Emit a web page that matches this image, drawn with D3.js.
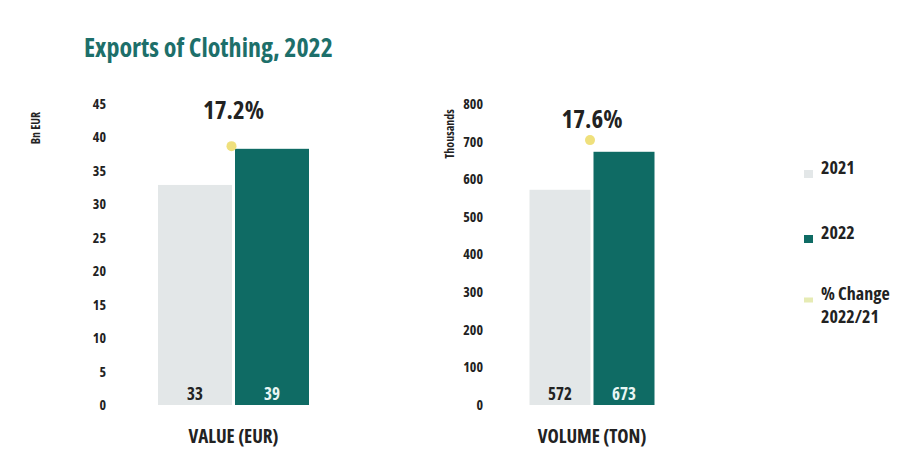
<!DOCTYPE html>
<html lang="en">
<head>
    <meta charset="UTF-8">
    <title>Exports of Clothing, 2022</title>
    <script src="https://cdn.jsdelivr.net/npm/d3@7"></script>
    <style>
        body { margin: 0; background: #fff; }
        svg text {
            font-family: "Open Sans", "Liberation Sans Narrow", sans-serif;
            font-stretch: 75%;
            font-weight: bold;
            fill: #222;
        }
    </style>
</head>
<body>
<svg width="906" height="457"></svg>
<script>
    // data
    var categories = ["VALUE (EUR)", "VOLUME (TON)"];
    var years = ["2021", "2022"];
    var values2021 = [32.9, 572];
    var values2022 = [38.3, 673];
    var labels2021 = ["33", "572"];
    var labels2022 = ["39", "673"];
    var pctChange = [17.2, 17.6];
    var axisTitles = ["Bn EUR", "Thousands"];
    var yMax = [45, 800];
    var yStep = [5, 100];

    var svg = d3.select("svg");
    var green = "#0f6b64", grey = "#e3e7e8", yellow = "#efe07c";

    // layout of the two small panels
    var panels = [
        {axisX: 106, center: 233.5, barW: 74, titleX: 36, titleY: 128, pctY: 119},
        {axisX: 483, center: 592, barW: 61, titleX: 450, titleY: 134, pctY: 128}
    ];
    var plotTop = 104, plotBottom = 405;

    svg.append("text")
        .attr("x", 84).attr("y", 57)
        .style("font-size", "26px")
        .style("fill", "#1d6f6a")
        .text("Exports of Clothing, 2022");

    // secondary scale for the % change marker
    var pct = d3.scaleLinear().domain([0, 20]).range([plotBottom, plotTop]);

    categories.forEach(function (cat, i) {
        var p = panels[i];
        var y = d3.scaleLinear().domain([0, yMax[i]]).range([plotBottom, plotTop]);
        var x = d3.scaleBand().domain(years)
            .range([p.center - p.barW - 1.5, p.center + p.barW + 1.5])
            .paddingInner(3 / (p.barW + 3));
        var g = svg.append("g");

        var axis = g.append("g")
            .attr("transform", "translate(" + p.axisX + ",0)")
            .call(d3.axisLeft(y).tickValues(d3.range(0, yMax[i] + 1, yStep[i])).tickSize(0).tickPadding(0));
        axis.select(".domain").remove();
        axis.attr("font-family", null).attr("font-size", null);
        axis.selectAll("text")
            .attr("fill", null)
            .style("font-size", "14px");

        g.append("text")
            .attr("transform", "translate(" + p.titleX + "," + p.titleY + ") rotate(-90)")
            .attr("text-anchor", "middle")
            .attr("dy", "0.35em")
            .style("font-size", "12px")
            .text(axisTitles[i]);

        var vals = [values2021[i], values2022[i]];
        var labs = [labels2021[i], labels2022[i]];
        g.selectAll("rect")
            .data(vals)
            .enter()
            .append("rect")
            .attr("x", function (d, j) { return x(years[j]); })
            .attr("y", function (d) { return y(d); })
            .attr("width", x.bandwidth())
            .attr("height", function (d) { return plotBottom - y(d); })
            .attr("fill", function (d, j) { return j == 0 ? grey : green; });

        g.selectAll(".val")
            .data(labs)
            .enter()
            .append("text")
            .attr("class", "val")
            .attr("x", function (d, j) { return x(years[j]) + x.bandwidth() / 2; })
            .attr("y", plotBottom - 5)
            .attr("text-anchor", "middle")
            .style("font-size", "17px")
            .style("fill", function (d, j) { return j == 0 ? "#222" : "#e8f6f4"; })
            .text(function (d) { return d; });

        g.append("circle")
            .attr("cx", p.center - 2)
            .attr("cy", pct(pctChange[i]))
            .attr("r", 5)
            .attr("fill", yellow);

        g.append("text")
            .attr("x", p.center)
            .attr("y", p.pctY)
            .attr("text-anchor", "middle")
            .style("font-size", "25px")
            .text(pctChange[i].toFixed(1) + "%");

        g.append("text")
            .attr("x", p.center)
            .attr("y", 443)
            .attr("text-anchor", "middle")
            .style("font-size", "19px")
            .text(cat);
    });

    // legend
    var legend = [
        {label: ["2021"], color: grey, y: 174, h: 8},
        {label: ["2022"], color: green, y: 239, h: 8},
        {label: ["% Change", "2022/21"], color: "#e6ebb4", y: 300, h: 5}
    ];
    var lg = svg.append("g").selectAll("g")
        .data(legend)
        .enter()
        .append("g")
        .attr("transform", function (d) { return "translate(804," + d.y + ")"; });
    lg.append("rect")
        .attr("x", 0)
        .attr("y", function (d) { return -d.h / 2; })
        .attr("width", 9)
        .attr("height", function (d) { return d.h; })
        .attr("fill", function (d) { return d.color; });
    lg.append("text")
        .attr("x", 17)
        .attr("dy", "0.35em")
        .style("font-size", "18px")
        .selectAll("tspan")
        .data(function (d) { return d.label; })
        .enter()
        .append("tspan")
        .attr("x", 17)
        .attr("dy", function (d, j) { return j == 0 ? 0 : 23; })
        .text(function (d) { return d; });
</script>
</body>
</html>
